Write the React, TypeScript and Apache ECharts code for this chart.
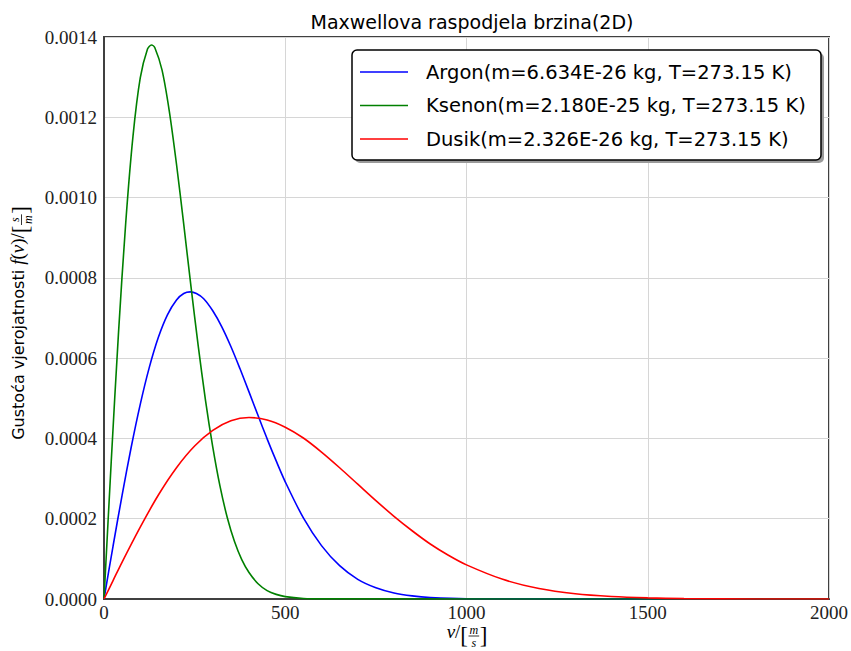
import React, { useEffect, useRef } from "react";
import * as echarts from "echarts";

// ---- Data ----
const SERIES_NAMES = [
  "Argon(m=6.634E-26 kg, T=273.15 K)",
  "Ksenon(m=2.180E-25 kg, T=273.15 K)",
  "Dusik(m=2.326E-26 kg, T=273.15 K)",
];
const SERIES_COLORS = ["#0000ff", "#008000", "#ff0000"];

const V_ARGON = [0, 25, 50, 75, 100, 125, 150, 175, 200, 220, 238, 255, 275, 300, 325, 350, 375, 400, 425, 450, 475, 500, 550, 600, 650, 700, 750, 800, 850, 900, 1000, 2000];
const F_ARGON = [0, 0.000132, 0.000259, 0.000378, 0.000485, 0.000577, 0.000652, 0.000708, 0.000745, 0.000761, 0.000765, 0.000761, 0.000748, 0.000718, 0.000678, 0.000629, 0.000574, 0.000516, 0.000457, 0.000399, 0.000344, 0.000292, 0.000202, 0.000133, 0.000083, 0.000049, 0.000028, 0.000015, 0.0000077, 0.0000037, 0.0000008, 0];

const V_KSENON = [0, 20, 40, 60, 80, 100, 120, 131, 140, 160, 180, 200, 220, 240, 260, 280, 300, 320, 340, 360, 380, 400, 425, 450, 475, 500, 550, 600, 2000];
const F_KSENON = [0, 0.000343, 0.000663, 0.000938, 0.001153, 0.001298, 0.00137, 0.00138, 0.001374, 0.001318, 0.001216, 0.001083, 0.000933, 0.000778, 0.00063, 0.000495, 0.000379, 0.000281, 0.000203, 0.000143, 0.000098, 0.000066, 0.000038, 0.000021, 0.0000115, 0.000006, 0.0000014, 0.0000003, 0];

const V_DUSIK = [0, 25, 50, 100, 150, 200, 250, 300, 350, 400, 450, 500, 550, 600, 650, 700, 750, 800, 850, 900, 950, 1000, 1100, 1200, 1300, 1400, 1500, 1600, 1800, 2000];
const F_DUSIK = [0, 0.000046, 0.000092, 0.000179, 0.000259, 0.000327, 0.000381, 0.00042, 0.000444, 0.000452, 0.000446, 0.000428, 0.000401, 0.000366, 0.000327, 0.000286, 0.000245, 0.000206, 0.00017, 0.000137, 0.000109, 0.000085, 0.000049, 0.000026, 0.000013, 0.0000062, 0.0000027, 0.000001, 0.0000001, 0];

const X_TICKS = { min: 0, max: 2000, interval: 500 };
const Y_TICKS = { min: 0, max: 0.0014, interval: 0.0002 };

const TITLE = "Maxwellova raspodjela brzina(2D)";

// ---- helpers for math-like axis titles ----
let measureCtx: CanvasRenderingContext2D | null = null;
function tw(t: string, font: string): number {
  if (!measureCtx) measureCtx = document.createElement("canvas").getContext("2d");
  measureCtx!.font = font;
  return measureCtx!.measureText(t).width;
}

type Seg =
  | { t: string; f: string; size: number; base: number }
  | { num: string; den: string; f: string; size: number; lh: number; bar: number; dy: number };

function textEl(x: number, y: number, size: number, text: string, font: string, align = "left", lh?: number) {
  return {
    type: "text",
    x,
    y,
    silent: true,
    style: {
      text,
      font,
      fill: "#000",
      lineHeight: lh ?? Math.round(size * 0.8),
      align,
      verticalAlign: "middle",
      textAlign: align,
      textVerticalAlign: "middle",
    },
  };
}

function mathLabel(segs: Seg[], x: number, y: number, rotation: number) {
  const widths = segs.map((s: any) =>
    "t" in s ? tw(s.t, s.f) : Math.max(tw(s.num, s.f), tw(s.den, s.f)) + 3
  );
  const total = widths.reduce((a, b) => a + b, 0);
  let cur = -total / 2;
  const children: any[] = [];
  segs.forEach((s: any, i) => {
    const w = widths[i];
    if ("t" in s) {
      children.push(textEl(cur, s.base - 0.33 * s.size, s.size, s.t, s.f));
    } else {
      // numerator and denominator as one two-line text centred on the fraction bar
      children.push(textEl(cur + w / 2, s.bar + s.dy, s.size, `${s.num}\n${s.den}`, s.f, "center", s.lh));
      children.push({
        type: "line",
        silent: true,
        shape: { x1: cur + 0.5, y1: s.bar, x2: cur + w - 0.5, y2: s.bar },
        style: { stroke: "#000", lineWidth: 0.8 },
      });
    }
    cur += w;
  });
  return { type: "group", x, y, rotation, children, silent: true };
}

const SERIF = '"Liberation Serif", "DejaVu Serif", serif';
const SANS = '"DejaVu Sans", sans-serif';

function zip(xs: number[], ys: number[]) {
  return xs.map((x, i) => [x, ys[i]]);
}

export default function App() {
  const ref = useRef<HTMLDivElement>(null);
  useEffect(() => {
    document.body.style.margin = "0";
    const chart = echarts.init(ref.current!, null, { renderer: "svg" });

    const xTitle = mathLabel(
      [
        { t: "v", f: `italic 19px ${SERIF}`, size: 19, base: 0 },
        { t: "/", f: `19px ${SERIF}`, size: 19, base: 0 },
        { t: "[", f: `23px ${SERIF}`, size: 23, base: 5 },
        { num: "m", den: "s", f: `italic 12px ${SERIF}`, size: 12, lh: 13, bar: -2, dy: 0 },
        { t: "]", f: `23px ${SERIF}`, size: 23, base: 5 },
      ],
      467,
      638,
      0
    );

    const yTitle = mathLabel(
      [
        { t: "Gustoća vjerojatnosti ", f: `16px ${SANS}`, size: 16, base: 0 },
        { t: "f", f: `italic 19px ${SERIF}`, size: 19, base: 0 },
        { t: "(", f: `19px ${SERIF}`, size: 19, base: 0 },
        { t: "v", f: `italic 19px ${SERIF}`, size: 19, base: 0 },
        { t: ")/", f: `19px ${SERIF}`, size: 19, base: 0 },
        { t: "[", f: `23px ${SERIF}`, size: 23, base: 4.5 },
        { num: "s", den: "m", f: `italic 12px ${SERIF}`, size: 12, lh: 13, bar: -2.5, dy: 0 },
        { t: "]", f: `23px ${SERIF}`, size: 23, base: 4.5 },
      ],
      24,
      323,
      Math.PI / 2
    );

    const dataSets = [zip(V_ARGON, F_ARGON), zip(V_KSENON, F_KSENON), zip(V_DUSIK, F_DUSIK)];

    chart.setOption({
      animation: false,
      backgroundColor: "#fff",
      title: {
        text: TITLE,
        left: 467,
        top: 7,
        textAlign: "center",
        textStyle: { fontFamily: SANS, fontSize: 19, fontWeight: "normal", color: "#000" },
      },
      grid: {
        left: 104,
        right: 21,
        top: 37,
        bottom: 52,
        show: true,
        borderColor: "#404040",
        borderWidth: 2,
        backgroundColor: "transparent",
      },
      legend: {
        orient: "vertical",
        left: 360,
        top: 62,
        padding: 0,
        itemGap: 13.5,
        itemWidth: 48,
        itemHeight: 1.6,
        icon: "rect",
        z: 10,
        data: SERIES_NAMES,
        textStyle: {
          fontFamily: SANS,
          fontSize: 19.5,
          lineHeight: 20,
          color: "#000",
          padding: [0, 0, 0, 13],
        },
      },
      xAxis: {
        type: "value",
        ...X_TICKS,
        axisLine: { show: true, lineStyle: { color: "#404040", width: 2 } },
        axisTick: { show: false },
        splitLine: { show: true, lineStyle: { color: "#d6d6d6", width: 1 } },
        axisLabel: {
          fontFamily: SERIF,
          fontSize: 19,
          lineHeight: 16,
          color: "#222",
          margin: 5,
          formatter: (v: number) => String(v),
        },
      },
      yAxis: {
        type: "value",
        ...Y_TICKS,
        axisLine: { show: true, lineStyle: { color: "#404040", width: 2 } },
        axisTick: { show: false },
        splitLine: { show: true, lineStyle: { color: "#d6d6d6", width: 1 } },
        axisLabel: {
          fontFamily: SERIF,
          fontSize: 19,
          color: "#222",
          margin: 7,
          formatter: (v: number) => v.toFixed(4),
        },
      },
      graphic: [
        {
          type: "rect",
          z: 8,
          silent: true,
          shape: { x: 355, y: 53, width: 469, height: 110, r: 5 },
          style: { fill: "#9a9a9a" },
        },
        {
          type: "rect",
          z: 9,
          silent: true,
          shape: { x: 352, y: 50, width: 469, height: 110, r: 5 },
          style: { fill: "#fff", stroke: "#000", lineWidth: 1.5 },
        },
        xTitle,
        yTitle,
      ],
      series: SERIES_NAMES.map((name, i) => ({
        name,
        type: "line",
        data: dataSets[i],
        showSymbol: false,
        symbol: "none",
        smooth: 0.3,
        color: SERIES_COLORS[i],
        lineStyle: { color: SERIES_COLORS[i], width: 1.6 },
        z: 3,
      })),
    });
    return () => chart.dispose();
  }, []);
  return <div ref={ref} style={{ width: 851, height: 651, position: "fixed", left: 0, top: 0 }} />;
}
